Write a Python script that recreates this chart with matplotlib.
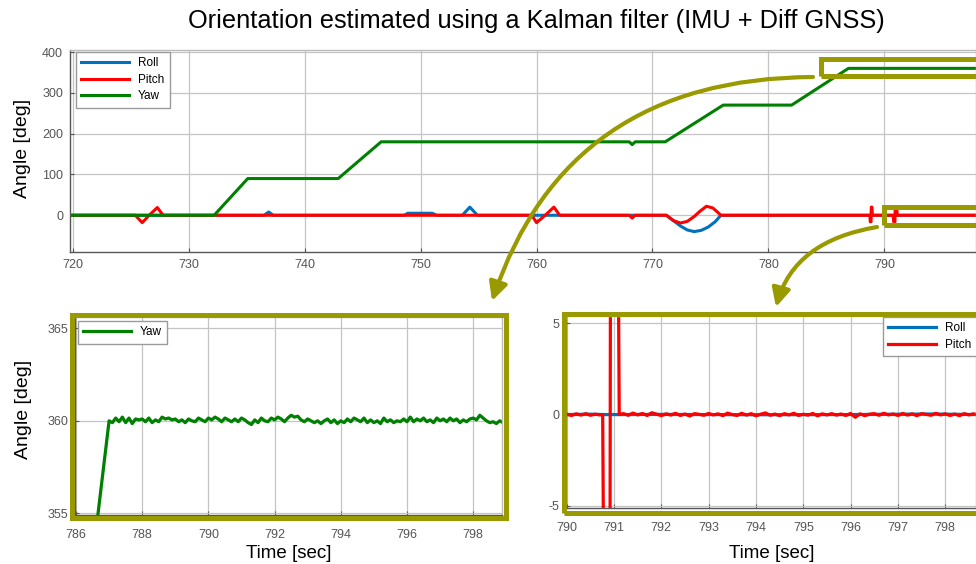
import numpy as np
import matplotlib
matplotlib.use('Agg')
import matplotlib.pyplot as plt
from matplotlib.patches import Rectangle, FancyArrowPatch, ArrowStyle
from matplotlib.path import Path

plt.rcParams['font.family'] = ['Liberation Sans', 'DejaVu Sans']
plt.rcParams['axes.unicode_minus'] = False

# ---------------- data ----------------
title = "Orientation estimated using a Kalman filter (IMU + Diff GNSS)"
ylabel = "Angle [deg]"
xlabel = "Time [sec]"

# overview plot (piecewise readings)
yaw_t = [720, 732.2, 735.1, 742.9, 746.6, 768.0, 768.25, 768.5, 771.1, 776.1, 782.0, 786.9, 799]
yaw_v = [0, 0, 90, 90, 180, 180, 173, 180, 180, 270, 270, 360, 360]

roll_t = [720, 736.5, 736.9, 737.3, 748.6, 748.9, 751.0, 751.4, 753.6, 754.25, 754.9,
          771.2, 771.8, 772.4, 773.0, 773.6, 774.2, 774.8, 775.4, 775.9, 799]
roll_v = [0, 0, 8, 0, 0, 5, 5, 0, 0, 20, 0,
          0, -13, -26, -36, -40, -37, -29, -16, 0, 0]

pitch_t = [720, 725.4, 726.0, 726.6, 727.3, 727.8, 759.6, 760.0, 760.75, 761.5, 762.0,
           768.0, 768.25, 768.5, 771.2, 771.8, 772.4, 773.0, 773.6, 774.1, 774.65, 775.2,
           775.6, 775.9, 788.75, 788.78, 788.85, 788.87, 788.93, 788.96,
           790.76, 790.80, 790.91, 790.93, 791.07, 791.11, 799]
pitch_v = [0, 0, -18, 0, 19, 0, 0, -18, 0, 20, 0,
           0, -7, 0, 0, -13, -19, -15, -3, 10, 22, 18,
           8, 0, 0, -16, -16, 20, 20, 0,
           0, -16, -16, 17, 17, 0, 0]

# zoom on yaw (787.0 .. 799.0, every 0.1 s)
yaw_zoom_start = [786.66, 787.0]
yaw_zoom_start_v = [354.9, 360.0]
yaw_zoom_v = [
    360.00, 359.90, 360.15, 359.95, 360.20, 359.90, 360.15, 359.85, 360.10, 360.05,
    360.10, 359.95, 360.15, 359.90, 360.05, 359.95, 360.20, 360.10, 360.15, 360.05,
    360.10, 359.95, 360.05, 359.90, 360.10, 360.00, 359.95, 360.15, 360.05, 359.95,
    360.15, 360.05, 360.20, 360.10, 359.95, 360.15, 360.05, 359.95, 360.10, 359.95,
    360.15, 360.05, 359.90, 359.80, 360.05, 359.90, 360.15, 360.00, 359.95, 360.15,
    360.05, 360.20, 360.10, 359.95, 360.15, 360.30, 360.20, 360.25, 360.05, 359.95,
    360.10, 360.00, 359.90, 360.00, 359.85, 360.00, 360.10, 359.90, 360.05, 359.85,
    360.00, 359.90, 360.10, 359.95, 360.15, 360.05, 359.95, 360.15, 359.90, 360.05,
    359.90, 360.00, 359.85, 360.15, 359.95, 360.05, 359.90, 360.00, 359.95, 360.10,
    359.95, 360.20, 359.95, 360.10, 360.00, 360.15, 359.95, 360.05, 359.90, 360.15,
    360.00, 360.10, 359.95, 360.15, 360.00, 360.10, 359.90, 360.05, 359.95, 360.10,
    360.15, 360.05, 360.30, 360.15, 360.00, 359.90, 359.95, 359.85, 360.00, 359.90,
    359.95]

# zoom on roll / pitch
pitch_pre_v = [0.02, -0.05, 0.04, -0.03, 0.05, -0.04, 0.02, -0.02]          # 790.0 .. 790.7
pitch_spike_t = [790.76, 790.80, 790.91, 790.93, 791.07, 791.11]
pitch_spike_v = [0, -16, -16, 17, 17, 0]
pitch_post_v = [                                                             # 791.2 .. 798.7
    0.05, -0.04, 0.08, -0.02, 0.06, -0.05, 0.10, 0.02, -0.06, 0.04,
    -0.03, 0.07, -0.05, 0.03, -0.08, 0.05, 0.01, -0.04, 0.06, -0.02,
    0.04, -0.06, 0.08, 0.00, -0.05, 0.07, -0.03, 0.05, -0.07, 0.02,
    0.09, -0.04, 0.03, -0.06, 0.05, -0.02, 0.07, -0.05, 0.02, -0.03,
    0.06, -0.07, 0.04, -0.02, 0.05, -0.03, 0.03, -0.05, 0.06, -0.15,
    0.04, -0.06, 0.02, 0.05, -0.04, 0.07, -0.02, 0.03, -0.05, 0.06,
    -0.03, 0.04, -0.06, 0.05, 0.01, -0.04, 0.07, -0.02, 0.04, -0.05,
    0.03, -0.06, 0.05, -0.02, 0.04, -0.03]
roll_zoom_t = [790.0, 790.5, 790.8, 791.1, 792.0, 794.0, 796.0, 797.7, 798.7]
roll_zoom_v = [0, 0.02, 0, 0, 0.01, -0.01, 0.0, 0.03, 0]

# ---------------- style ----------------
W, H = 976, 564
C_ROLL, C_PITCH, C_YAW = '#0072BD', '#FF0000', '#008000'
OLIVE = '#999900'
GRID = '#c4c4c4'
TICKC = '#555555'

fig = plt.figure(figsize=(W / 100, H / 100), dpi=100)


def box(x0, y0, x1, y1):
    return [x0 / W, 1 - y1 / H, (x1 - x0) / W, (y1 - y0) / H]


def fy(y):
    return 1 - y / H


def style(ax):
    ax.grid(True, color=GRID, lw=0.9)
    ax.set_axisbelow(True)
    for s in ['left', 'bottom']:
        ax.spines[s].set_color('#555555')
        ax.spines[s].set_linewidth(1.0)
    for s in ['top', 'right']:
        ax.spines[s].set_color('#bbbbbb')
        ax.spines[s].set_linewidth(1.0)
    ax.tick_params(labelsize=9, colors=TICKC, direction='in', length=3, pad=5)


leg_kw = dict(bbox_transform=fig.transFigure, fontsize=8.5, fancybox=False,
              edgecolor='#9a9a9a', framealpha=1, handlelength=4.0, handletextpad=0.8,
              borderpad=0.45, labelspacing=0.38, borderaxespad=0, loc='upper left')

# top overview
ax1 = fig.add_axes(box(70, 50, 976, 252))
style(ax1)
ax1.plot(roll_t, roll_v, color=C_ROLL, lw=2.2, label='Roll')
ax1.plot(pitch_t, pitch_v, color=C_PITCH, lw=2.2, label='Pitch')
ax1.plot(yaw_t, yaw_v, color=C_YAW, lw=2.2, label='Yaw')
ax1.set_xlim(719.77, 797.9)
ax1.set_ylim(-90, 405)
ax1.set_xticks(np.arange(720, 791, 10))
ax1.set_yticks([0, 100, 200, 300, 400])
ax1.legend(bbox_to_anchor=(76 / W, fy(52)), **leg_kw)

# bottom-left yaw zoom
ax2 = fig.add_axes(box(75, 317, 502, 515))
style(ax2)
yz_t = np.linspace(787.0, 799.0, len(yaw_zoom_v))
ax2.plot(yaw_zoom_start + list(yz_t[1:]), yaw_zoom_start_v + list(yaw_zoom_v[1:]),
         color=C_YAW, lw=2.3, label='Yaw')
ax2.set_xlim(785.97, 798.87)
ax2.set_ylim(354.91, 365.61)
ax2.set_xticks(np.arange(786, 799, 2))
ax2.set_yticks([355, 360, 365])
ax2.tick_params(axis='x', pad=10)
ax2.legend(bbox_to_anchor=(78 / W, fy(321)), **leg_kw)

# bottom-right roll/pitch zoom
ax3 = fig.add_axes(box(566, 316, 976, 508))
style(ax3)
pre_t = np.linspace(790.0, 790.7, len(pitch_pre_v))
post_t = np.linspace(791.2, 798.7, len(pitch_post_v))
p_t = list(pre_t) + pitch_spike_t + list(post_t)
p_v = list(pitch_pre_v) + pitch_spike_v + list(pitch_post_v)
ax3.plot(roll_zoom_t, roll_zoom_v, color=C_ROLL, lw=2.3, label='Roll')
ax3.plot(p_t, p_v, color=C_PITCH, lw=2.3, label='Pitch')
ax3.set_xlim(789.985, 798.65)
ax3.set_ylim(-5.12, 5.4)
ax3.set_xticks(np.arange(790, 799, 1))
ax3.set_yticks([-5, 0, 5])
ax3.tick_params(axis='x', pad=10)
ax3.legend(bbox_to_anchor=(883 / W, fy(317)), **leg_kw)

# texts
fig.text(536 / W, fy(21), title, ha='center', va='center', fontsize=18.3)
fig.text(23 / W, fy(148), ylabel, rotation=90, ha='center', va='center', fontsize=14)
fig.text(24 / W, fy(409), ylabel, rotation=90, ha='center', va='center', fontsize=14)
fig.text(289 / W, fy(554), xlabel, ha='center', va='center', fontsize=13.5)
fig.text(772 / W, fy(554), xlabel, ha='center', va='center', fontsize=13.5)


# olive highlight rectangles (centerline pixel coords)
def orect(x0, y0, x1, y1):
    r = Rectangle((x0 / W, fy(y1)), (x1 - x0) / W, (y1 - y0) / H, transform=fig.transFigure,
                  fill=False, ec=OLIVE, lw=3.6, zorder=20, clip_on=False)
    fig.add_artist(r)


orect(71.5, 314.5, 505.5, 517.5)
orect(564.2, 314.2, 1000, 512.5)
orect(820.5, 59.2, 1000, 75.5)
orect(884.2, 206.5, 1000, 225.2)


# curved arrows
def carrow(p0, c, p2):
    verts = [(p0[0] / W, fy(p0[1])), (c[0] / W, fy(c[1])), (p2[0] / W, fy(p2[1]))]
    path = Path(verts, [Path.MOVETO, Path.CURVE3, Path.CURVE3])
    a = FancyArrowPatch(path=path, arrowstyle=ArrowStyle('-|>', head_length=11, head_width=5.5),
                        mutation_scale=1, lw=3.0, color=OLIVE, transform=fig.transFigure,
                        zorder=21)
    fig.add_artist(a)


carrow((813, 77), (567, 78), (492, 301))
carrow((877, 227), (794, 241), (776, 307))

fig.savefig('out.png', dpi=100)
